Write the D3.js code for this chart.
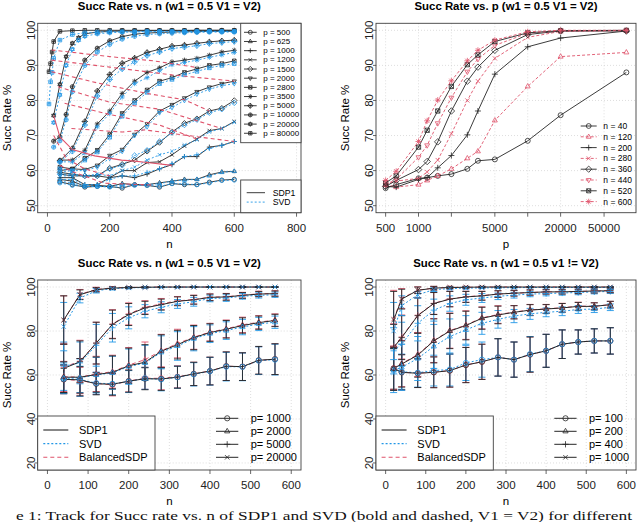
<!DOCTYPE html>
<html>
<head>
<meta charset="utf-8">
<script src="https://cdn.jsdelivr.net/npm/d3@7"></script>
<style>body { margin: 0; background: #fff; }</style>
</head>
<body>
<script>
// ---- top-left: succ rate vs n, one curve per p ----
var p1P = [500, 625, 1000, 1200, 1500, 2000, 2800, 3500, 5000, 10000, 20000, 80000];
var nStd = [40, 80, 120, 160, 200, 240, 280, 320, 360, 400, 440, 480, 520, 560, 600];
var n10k = [20, 40, 60, 80, 120, 160, 200, 240, 280, 320, 360, 400, 440, 480, 520, 560, 600];
var n20k = [20, 40, 60, 80, 100, 120, 160, 200, 240, 280, 320, 360, 400, 440, 480, 520, 560, 600];
var n80k = [5, 10, 15, 20, 40, 80, 120, 160, 200, 240, 280, 320, 360, 400, 440, 480, 520, 560, 600];
var p1N = [nStd, nStd, nStd, nStd, nStd, nStd, nStd, nStd, nStd, n10k, n20k, n80k];
var p1Sdp = [
  [56.8, 56, 55.3, 55.5, 55.5, 55, 56, 55.8, 55.3, 56.3, 56, 56, 56.7, 57.3, 57.5],
  [57.5, 57, 55.5, 55.8, 55.5, 56.3, 56, 56, 56.5, 57, 57.5, 57.5, 58.8, 59.6, 59.8],
  [58, 58, 56, 56, 58, 58.5, 58, 59, 60.5, 61.7, 64, 64, 66.7, 67.2, 68.3],
  [59, 58.5, 58.5, 58.5, 58, 60, 60, 62.3, 62.5, 64.5, 67, 69, 71.4, 72, 74],
  [59.5, 59, 58.5, 58.5, 60.7, 61.8, 63, 65.5, 68, 71, 73.5, 74.8, 77, 77.8, 80],
  [60, 60.5, 60.3, 61.5, 64.3, 66, 70.3, 73.3, 77, 78.8, 80.7, 82.5, 83.8, 84.8, 85.5],
  [61, 60.5, 63.5, 65.8, 70.3, 76.3, 80, 83, 85.5, 86.5, 88, 89, 90, 90.5, 91.3],
  [63, 63, 65.8, 73.3, 77, 82, 85.5, 88, 89.3, 91, 91.5, 92, 92.9, 93.8, 94.3],
  [62.8, 66.3, 74, 82.7, 87.4, 90.6, 92.1, 93.7, 94.6, 95.5, 95.8, 96.3, 96.7, 97, 97.2],
  [68.4, 69.6, 76, 83.9, 91.5, 94.9, 97, 98.2, 98.9, 99.2, 99.4, 99.5, 99.6, 99.6, 99.7, 99.7, 99.7],
  [75.7, 84.6, 92.5, 96.3, 97.9, 99, 99.5, 99.7, 99.8, 99.8, 99.9, 99.9, 99.9, 99.9, 100, 100, 100, 100],
  [88.2, 90.5, 93.8, 96.8, 99.7, 99.9, 100, 100, 100, 100, 100, 100, 100, 100, 100, 100, 100, 100, 100]
];
var p1Svd = [
  [56.5, 55.8, 55.5, 55.5, 55.3, 55.3, 55.8, 55.8, 55.5, 56.3, 56.2, 56, 56.5, 57.2, 57.3],
  [57, 56.5, 55.5, 55.5, 55.5, 56, 56, 56, 56.3, 57, 57.3, 57.5, 58.5, 59.5, 59.8],
  [57.5, 57.5, 56, 56, 57.5, 58.5, 58.5, 59.5, 60.5, 62, 64, 64.5, 66.3, 67.2, 68.3],
  [58.5, 58.5, 58.5, 59, 58.5, 60, 61, 63, 64.5, 65.5, 67.3, 68.8, 71, 72, 73.8],
  [59, 59, 58.5, 58.5, 60.5, 61.5, 64.3, 65.8, 68.3, 70.8, 73, 74.5, 76.5, 77.5, 79.3],
  [59.5, 60, 60, 61, 63.5, 65.5, 70, 72.5, 76.5, 78, 80, 81.8, 83.2, 84.2, 84.8],
  [60.5, 60, 63, 65.3, 69.5, 75.5, 79.3, 82.3, 84.8, 86, 87.3, 88.3, 89.3, 90, 90.5],
  [62.5, 62.5, 65, 72.5, 76.3, 81, 84.8, 86.5, 88.5, 90.2, 90.8, 91.5, 92.3, 93, 93.7],
  [62.5, 65.5, 73, 81.3, 86, 89, 91, 92.8, 93.8, 94.8, 95.2, 95.6, 96.2, 96.5, 96.8],
  [66.7, 68.5, 74.5, 82.5, 90, 93.8, 96, 97.5, 98.3, 98.8, 99, 99.2, 99.3, 99.4, 99.5, 99.5, 99.5],
  [73.7, 81.6, 90, 94.6, 97.2, 98.3, 99, 99.3, 99.5, 99.5, 99.6, 99.6, 99.6, 99.7, 99.7, 99.7, 99.7, 99.7],
  [79, 85.3, 88, 92, 97.2, 98.8, 99.3, 99.5, 99.6, 99.6, 99.6, 99.7, 99.7, 99.7, 99.7, 99.7, 99.7, 99.7, 99.7]
];
// stray red lines that cross the top-left panel
var p1RedDashN = [
  [13, 200, 340, 473],
  [13, 200, 400, 600],
  [13, 160, 320, 440, 520],
  [34, 200, 360, 560],
  [55, 200, 360, 480],
  [77, 240, 313, 398, 600],
  [40, 80, 183, 333],
  [20, 60, 120, 200]
];
var p1RedDashV = [
  [94.4, 92.5, 91.3, 89.5],
  [91.5, 89.5, 87.3, 85.5],
  [88.2, 85, 82, 80.2, 77],
  [83.9, 79.5, 77.5, 72],
  [79.2, 76, 73, 69],
  [72, 71, 71.6, 70.6, 68.3],
  [61.5, 59.7, 56.4, 55.9],
  [70, 63.5, 60.5, 58.5]
];
var p1RedSolidN = [20, 40, 80, 152, 238, 280, 320, 400];
var p1RedSolidV = [75.7, 69.6, 66, 64.2, 63, 62.7, 62.3, 61.5];

// ---- top-right: succ rate vs p, one curve per n ----
var p2N = [40, 120, 200, 280, 360, 440, 520, 600];
var p2V = [
  [55, 56, 57.8, 58, 58.5, 59, 60.5, 62.8, 63.2, 68.5, 75.8, 88],
  [56, 55.3, 56, 57.2, 58.5, 60.5, 63.5, 65.5, 74.3, 84, 92.5, 93.7],
  [55.5, 55.3, 57.5, 58, 60.8, 64.3, 70.2, 77, 87.5, 95.3, 97.8, 99.8],
  [56, 57, 57.8, 59.6, 63, 70.5, 80, 85.5, 92, 98, 99.7, 100],
  [55.5, 57.2, 60.3, 62.6, 68.2, 77, 85.5, 89.5, 94.3, 98.8, 99.8, 99.8],
  [56, 57.5, 63.8, 67.2, 73.5, 80.8, 88.2, 91.8, 95.7, 99.2, 99.8, 99.9],
  [56.5, 58.5, 66.7, 71.5, 77, 84, 90.2, 93, 96.8, 99.3, 99.9, 100],
  [57.2, 59.8, 68.3, 74.2, 80.1, 85.6, 91.3, 94.3, 97.2, 99.6, 100, 100]
];

// ---- bottom-left: mean and sd, V1 = V2 ----
var p3P = [1000, 2000, 5000, 20000];
var p3N = [40, 80, 120, 160, 200, 240, 280, 320, 360, 400, 440, 480, 520, 560];
var p3Sdp = [
  [58, 57.8, 56, 55.8, 57.2, 58.3, 58.2, 59, 60.5, 61.8, 64, 63.8, 66.7, 67.2],
  [59, 59, 60.2, 61.2, 64.2, 65.8, 70.8, 73.8, 77, 79.3, 80.8, 82.5, 83.8, 84.8],
  [63, 66, 74.5, 83, 87.5, 90.5, 92, 93.5, 94.2, 95.3, 95.5, 96.2, 96.8, 97],
  [85, 96.5, 98.8, 99.5, 99.8, 99.9, 100, 100, 100, 100, 100, 100, 100, 100]
];
var p3Svd = [
  [58.3, 58, 56.3, 56, 57, 58.5, 58, 59, 60.3, 61.7, 63.8, 63.7, 66.5, 67],
  [58.5, 58.8, 60, 61, 63.8, 65.5, 70.3, 73.2, 76.5, 78.8, 80.2, 81.8, 83.2, 84],
  [64, 65.5, 73.5, 81.5, 86, 89, 90.8, 92.3, 93.3, 94.8, 95, 95.8, 96.2, 96.5],
  [82, 95, 98.3, 99.3, 99.6, 99.8, 99.9, 99.9, 100, 100, 100, 100, 100, 100]
];
var p3Bal = [
  [58, 57.5, 56.2, 55.5, 57.3, 58.5, 58.5, 59.2, 60.5, 61.8, 64, 63.8, 66.6, 67.2],
  [59.2, 59, 60.5, 61.5, 64.5, 67, 71, 74.3, 77.2, 79.5, 81, 82.8, 84, 85],
  [63.5, 66.3, 74.5, 83.2, 87.8, 90.8, 92.3, 93.7, 94.3, 95.4, 95.6, 96.3, 96.9, 97.1],
  [85, 96.7, 98.9, 99.6, 99.8, 99.9, 100, 100, 100, 100, 100, 100, 100, 100]
];
var p3Sd = [
  [6.5, 6, 5, 5, 5, 5, 5.2, 5, 5.3, 6.3, 6.5, 6.3, 6.3, 7],
  [7, 8.5, 8, 7.5, 8, 8, 7.5, 6.5, 5.5, 4, 4, 3.5, 3, 2.8],
  [11, 9.5, 9.5, 6.5, 5, 3, 2.5, 2, 2, 1.5, 1.5, 1.3, 1.2, 1.2],
  [11, 2.2, 1, 0.6, 0.4, 0.3, 0.2, 0.2, 0.2, 0.2, 0.2, 0.2, 0.2, 0.2]
];

// ---- bottom-right: mean and sd, v1 != V2 ----
var p4P = [100, 200, 400, 1000];
var p4N = [20, 40, 80, 120, 160, 200, 240, 280, 320, 360, 400, 440, 480, 520, 560];
var p4Sdp = [
  [63, 61.2, 60.8, 61.2, 62, 64.5, 66, 68, 67, 69.3, 71, 74, 75, 75.5, 75.5],
  [63, 65, 69, 75.5, 80, 82.5, 85.8, 87.3, 88.5, 89.5, 90, 90.5, 91.2, 91.2, 92],
  [72.5, 77, 87, 92.5, 94.5, 95.5, 96, 96.8, 97.2, 97.5, 97.8, 97.8, 98, 98.2, 98.3],
  [85, 94.5, 98.5, 99.5, 99.8, 99.9, 100, 100, 100, 100, 100, 100, 100, 100, 100]
];
var p4Svd = [
  [62.5, 61.5, 61, 62, 62.5, 65.5, 67, 68, 67, 69.5, 71, 74, 75, 75.5, 75.5],
  [62, 63.5, 67.5, 73, 77.5, 80.5, 83.5, 85.3, 86.8, 87.8, 88.5, 89, 89.8, 90, 90.8],
  [71, 74, 83.5, 89.5, 92.5, 94.2, 95, 95.8, 96.3, 96.8, 97, 97.3, 97.5, 97.8, 98],
  [80, 91.5, 96.5, 98.8, 99.3, 99.5, 99.6, 99.7, 99.7, 99.8, 99.8, 99.8, 99.8, 99.8, 99.8]
];
var p4Bal = [
  [63, 61.3, 60.8, 61.3, 62, 64.6, 66, 68, 67, 69.3, 71, 74, 75, 75.5, 75.5],
  [63.2, 65.2, 69.3, 75.7, 80.2, 82.7, 86, 87.5, 88.6, 89.6, 90.1, 90.6, 91.3, 91.3, 92],
  [72.8, 77.3, 87.2, 92.6, 94.6, 95.6, 96.1, 96.8, 97.2, 97.5, 97.8, 97.9, 98, 98.2, 98.4],
  [85.5, 94.8, 98.6, 99.5, 99.8, 99.9, 100, 100, 100, 100, 100, 100, 100, 100, 100]
];
var p4Sd = [
  [9.5, 8, 6.5, 7, 7.5, 8, 8, 8.5, 8, 8, 7.5, 6.5, 5.5, 5.5, 6],
  [10, 10.5, 10, 10, 8, 6.5, 5, 4, 3, 2.5, 2, 2, 1.8, 1.6, 1.5],
  [10.5, 10, 8, 5, 3.5, 2.5, 2, 1.5, 1.3, 1.2, 1, 1, 1, 0.9, 0.9],
  [13, 4.5, 1.5, 0.8, 0.5, 0.4, 0.3, 0.3, 0.2, 0.2, 0.2, 0.2, 0.2, 0.2, 0.2]
];

var methods = ['SDP1', 'SVD', 'BalancedSDP'];
var caption = 'e 1:  Track for Succ rate vs. n of SDP1 and SVD (bold and dashed, V1 = V2) for different';

// ---- styles ----
var BLK = '#262626', BLUE = '#2297E6', RED = '#DF536B';
var FONT = '"Liberation Sans", Arial, sans-serif';

var svg = d3.select('body').append('svg')
  .attr('width', 640).attr('height', 522)
  .style('font-family', FONT);
svg.append('rect').attr('width', 640).attr('height', 522).attr('fill', '#fff');

function pad(lo, hi) { var d = (hi - lo) * 0.04; return [lo - d, hi + d]; }

// R-style plotting symbols (pch 1..12)
function mark(g, pch, cx, cy, r, col) {
  var k = g.append('g').attr('transform', 'translate(' + cx + ',' + cy + ')')
    .attr('fill', 'none').attr('stroke', col).attr('stroke-width', 0.8);
  var s = r * 0.85, q = r * 1.2, d = r * 1.3;
  var tri = 'M0,' + (-r * 1.15) + 'L' + r + ',' + (r * 0.6) + 'L' + (-r) + ',' + (r * 0.6) + 'Z';
  var triD = 'M0,' + (r * 1.15) + 'L' + r + ',' + (-r * 0.6) + 'L' + (-r) + ',' + (-r * 0.6) + 'Z';
  var plus = 'M' + (-q) + ',0H' + q + 'M0,' + (-q) + 'V' + q;
  var crs = 'M' + (-s) + ',' + (-s) + 'L' + s + ',' + s + 'M' + (-s) + ',' + s + 'L' + s + ',' + (-s);
  var sq = 'M' + (-s) + ',' + (-s) + 'H' + s + 'V' + s + 'H' + (-s) + 'Z';
  var dia = 'M0,' + (-d) + 'L' + d + ',0L0,' + d + 'L' + (-d) + ',0Z';
  var plusS = 'M' + (-s) + ',0H' + s + 'M0,' + (-s) + 'V' + s;
  var paths = {
    2: [tri], 3: [plus], 4: [crs], 5: [dia], 6: [triD], 7: [sq, crs],
    8: [plus, crs], 9: [dia, 'M' + (-d) + ',0H' + d + 'M0,' + (-d) + 'V' + d],
    11: [tri, triD], 12: [sq, plusS]
  };
  if (pch === 1 || pch === 10) k.append('circle').attr('r', r);
  if (pch === 10) k.append('path').attr('d', 'M' + (-r) + ',0H' + r + 'M0,' + (-r) + 'V' + r);
  (paths[pch] || []).forEach(function (p) { k.append('path').attr('d', p); });
}

function frame(o) {
  var l = o.box[0], r = o.box[1], t = o.box[2], b = o.box[3];
  var g = svg.append('g');
  var grid = function (sel) { return sel.attr('stroke', '#d0d0d0').attr('stroke-width', 0.7).attr('stroke-dasharray', '1,2'); };
  o.xt.forEach(function (v) {
    grid(g.append('line').attr('x1', o.x(v)).attr('x2', o.x(v)).attr('y1', t).attr('y2', b));
  });
  o.yt.forEach(function (v) {
    grid(g.append('line').attr('x1', l).attr('x2', r).attr('y1', o.y(v)).attr('y2', o.y(v)));
  });
  g.append('rect').attr('x', l).attr('y', t).attr('width', r - l).attr('height', b - t)
    .attr('fill', 'none').attr('stroke', '#404040').attr('stroke-width', 0.9);
  o.xt.forEach(function (v) {
    g.append('line').attr('x1', o.x(v)).attr('x2', o.x(v)).attr('y1', b).attr('y2', b + 4)
      .attr('stroke', '#404040').attr('stroke-width', 0.8);
    if (o.xl.indexOf(v) >= 0)
      g.append('text').attr('x', o.x(v)).attr('y', b + 15).attr('text-anchor', 'middle')
        .attr('dominant-baseline', 'central').attr('font-size', 11.5).attr('fill', '#222').text(v);
  });
  o.yt.forEach(function (v) {
    g.append('line').attr('x1', l - 3).attr('x2', l).attr('y1', o.y(v)).attr('y2', o.y(v))
      .attr('stroke', '#404040').attr('stroke-width', 0.8);
    g.append('text').attr('transform', 'translate(' + (l - 7) + ',' + o.y(v) + ') rotate(-90)')
      .attr('text-anchor', 'middle').attr('dominant-baseline', 'central')
      .attr('font-size', 11.5).attr('fill', '#222').text(v);
  });
  g.append('text').attr('x', (l + r) / 2).attr('y', t - 17).attr('text-anchor', 'middle')
    .attr('dominant-baseline', 'central').attr('font-size', 11.4).attr('font-weight', 'bold').text(o.title);
  g.append('text').attr('x', (l + r) / 2).attr('y', b + 31).attr('text-anchor', 'middle')
    .attr('dominant-baseline', 'central').attr('font-size', 11.5).text(o.xlab);
  g.append('text').attr('transform', 'translate(' + (l - 31) + ',' + ((t + b) / 2) + ') rotate(-90)')
    .attr('text-anchor', 'middle').attr('dominant-baseline', 'central').attr('font-size', 11.5).text('Succ Rate %');
  svg.append('clipPath').attr('id', 'clip' + o.id).append('rect')
    .attr('x', l).attr('y', t).attr('width', r - l).attr('height', b - t);
  return svg.append('g').attr('clip-path', 'url(#clip' + o.id + ')');
}

function path(g, xs, ys, x, y, col, dash, w) {
  g.append('path').attr('d', d3.line().x(function (d) { return x(d[0]); }).y(function (d) { return y(d[1]); })(d3.zip(xs, ys)))
    .attr('fill', 'none').attr('stroke', col).attr('stroke-width', w || 0.9)
    .attr('stroke-dasharray', dash || null);
}

var yTop = d3.scaleLinear().domain(pad(50, 100)).range([212.7, 23.3]);
var yBot = d3.scaleLinear().domain(pad(20, 100)).range([470, 280]);

// ---------- panel 1 ----------
var x1 = d3.scaleLinear().domain(pad(0, 783)).range([37.7, 301]);
var g1 = frame({ id: 1, box: [37.7, 301, 23.3, 212.7], x: x1, y: yTop,
  xt: [0, 200, 400, 600, 800], xl: [0, 200, 400, 600, 800], yt: [50, 60, 70, 80, 90, 100],
  title: 'Succ Rate vs. n (w1 = 0.5 V1 = V2)', xlab: 'n' });
p1P.forEach(function (p, i) {
  path(g1, p1N[i], p1Sdp[i], x1, yTop, BLK);
  p1N[i].forEach(function (n, j) { mark(g1, i + 1, x1(n), yTop(p1Sdp[i][j]), 2.1, BLK); });
});
p1P.forEach(function (p, i) {
  path(g1, p1N[i], p1Svd[i], x1, yTop, BLUE, '2,2');
  p1N[i].forEach(function (n, j) { mark(g1, i + 1, x1(n), yTop(p1Svd[i][j]), 2.1, BLUE); });
});
p1RedDashN.forEach(function (ns, i) { path(g1, ns, p1RedDashV[i], x1, yTop, RED, '4,3', 1.1); });
path(g1, p1RedSolidN, p1RedSolidV, x1, yTop, RED, null, 1.1);

// legend p
var lg1 = svg.append('g');
lg1.append('rect').attr('x', 240.7).attr('y', 23.3).attr('width', 60.3).attr('height', 119.4)
  .attr('fill', '#fff').attr('stroke', '#404040').attr('stroke-width', 0.9);
p1P.forEach(function (p, i) {
  var yy = 32.3 + i * 9.18;
  lg1.append('line').attr('x1', 244).attr('x2', 256.7).attr('y1', yy).attr('y2', yy).attr('stroke', BLK).attr('stroke-width', 0.9);
  mark(lg1, i + 1, 250.3, yy, 2, BLK);
  lg1.append('text').attr('x', 263.3).attr('y', yy).attr('dominant-baseline', 'central')
    .attr('font-size', 8).text('p = ' + p);
});
var lg1b = svg.append('g');
lg1b.append('rect').attr('x', 240.7).attr('y', 180).attr('width', 60.3).attr('height', 32.7)
  .attr('fill', '#fff').attr('stroke', '#404040').attr('stroke-width', 0.9);
[[BLK, null], [BLUE, '2,2']].forEach(function (s, i) {
  var yy = 192.7 + i * 9.4;
  lg1b.append('line').attr('x1', 246.7).attr('x2', 265).attr('y1', yy).attr('y2', yy)
    .attr('stroke', s[0]).attr('stroke-width', 0.9).attr('stroke-dasharray', s[1]);
  lg1b.append('text').attr('x', 272.7).attr('y', yy).attr('dominant-baseline', 'central')
    .attr('font-size', 8.7).text(methods[i]);
});

// ---------- panel 2 ----------
var lg = [Math.log10(500), Math.log10(80000)], lp = pad(lg[0], lg[1]);
var x2 = d3.scaleLog().domain([Math.pow(10, lp[0]), Math.pow(10, lp[1])]).range([376, 636]);
var g2 = frame({ id: 2, box: [376, 636, 23.3, 212.7], x: x2, y: yTop,
  xt: [500, 1000, 2000, 5000, 10000, 20000, 50000], xl: [500, 1000, 5000, 20000, 50000],
  yt: [50, 60, 70, 80, 90, 100], title: 'Succ Rate vs. p (w1 = 0.5 V1 = V2)', xlab: 'p' });
var p2Pch = [1, 2, 3, 4, 5, 6, 7, 8];
p2N.forEach(function (n, i) {
  var col = i % 2 ? RED : BLK;
  path(g2, p1P, p2V[i], x2, yTop, col, i % 2 ? '3,2' : null);
  p1P.forEach(function (p, j) { mark(g2, p2Pch[i], x2(p), yTop(p2V[i][j]), 2.5, col); });
});
var lg2 = svg.append('g');
p2N.forEach(function (n, i) {
  var yy = 126 + i * 10.8, col = i % 2 ? RED : BLK;
  lg2.append('line').attr('x1', 580.7).attr('x2', 596.7).attr('y1', yy).attr('y2', yy)
    .attr('stroke', col).attr('stroke-width', 0.9).attr('stroke-dasharray', i % 2 ? '3,2' : null);
  mark(lg2, p2Pch[i], 588.7, yy, 2.4, col);
  lg2.append('text').attr('x', 603.3).attr('y', yy).attr('dominant-baseline', 'central')
    .attr('font-size', 8.5).text('n = ' + n);
});

// ---------- panels 3 and 4 ----------
function errPanel(id, box, title, P, N, S, V, B, SD) {
  var x = d3.scaleLinear().domain(pad(0, 600)).range([box[0], box[1]]);
  var g = frame({ id: id, box: box, x: x, y: yBot, xt: [0, 100, 200, 300, 400, 500, 600],
    xl: [0, 100, 200, 300, 400, 500, 600], yt: [20, 40, 60, 80, 100], title: title, xlab: 'n' });
  var sets = [[S, BLK, null], [V, BLUE, '2,2'], [B, RED, '4,3']];
  var drawOrder = [2, 1, 0];   // balanced first, SDP1 on top
  P.forEach(function (p, i) {
    drawOrder.forEach(function (k) {
      var s = sets[k], vals = s[0][i];
      path(g, N, vals, x, yBot, s[1], s[2], 1);
      N.forEach(function (n, j) {
        var lo = yBot(vals[j] - SD[i][j]), hi = yBot(vals[j] + SD[i][j]), xx = x(n);
        g.append('path').attr('d', 'M' + xx + ',' + lo + 'V' + hi + 'M' + (xx - 3.5) + ',' + lo + 'H' + (xx + 3.5) +
          'M' + (xx - 3.5) + ',' + hi + 'H' + (xx + 3.5)).attr('stroke', s[1]).attr('stroke-width', 0.9).attr('fill', 'none');
      });
    });
  });
  P.forEach(function (p, i) {
    [2, 0, 1].forEach(function (k) {
      var s = sets[k];
      N.forEach(function (n, j) { mark(g, i + 1, x(n), yBot(s[0][i][j]), 2.6, s[1]); });
    });
  });
  // method legend (boxed)
  var l = box[0], lgm = svg.append('g');
  lgm.append('rect').attr('x', l).attr('y', 416).attr('width', 117.3).attr('height', 54)
    .attr('fill', '#fff').attr('stroke', '#404040').attr('stroke-width', 0.9);
  sets.forEach(function (s, k) {
    var yy = 430 + k * 13.6;
    lgm.append('line').attr('x1', l + 5.6).attr('x2', l + 30.6).attr('y1', yy).attr('y2', yy)
      .attr('stroke', s[1]).attr('stroke-width', 1.1).attr('stroke-dasharray', s[2]);
    lgm.append('text').attr('x', l + 41.3).attr('y', yy).attr('dominant-baseline', 'central')
      .attr('font-size', 11).text(methods[k]);
  });
  // p legend
  var lx = box[0] + 178.3, lgp = svg.append('g');
  P.forEach(function (p, i) {
    var yy = 418.3 + i * 13;
    lgp.append('line').attr('x1', lx).attr('x2', lx + 22.3).attr('y1', yy).attr('y2', yy)
      .attr('stroke', BLK).attr('stroke-width', 1);
    mark(lgp, i + 1, lx + 11.2, yy, 2.6, BLK);
    lgp.append('text').attr('x', lx + 34.7).attr('y', yy).attr('dominant-baseline', 'central')
      .attr('font-size', 11).text('p= ' + p);
  });
}
errPanel(3, [37.7, 301, 280, 470], 'Succ Rate vs. n (w1 = 0.5 V1 = V2)', p3P, p3N, p3Sdp, p3Svd, p3Bal, p3Sd);
errPanel(4, [376, 636, 280, 470], 'Succ Rate vs. n (w1 = 0.5 v1 != V2)', p4P, p4N, p4Sdp, p4Svd, p4Bal, p4Sd);

// caption line at the very bottom
svg.append('text').attr('x', 16).attr('y', 519.5).attr('font-family', '"Liberation Serif", serif')
  .attr('font-size', 11.5).attr('fill', '#111')
  .attr('textLength', 616).attr('lengthAdjust', 'spacingAndGlyphs').text(caption);
</script>
</body>
</html>
